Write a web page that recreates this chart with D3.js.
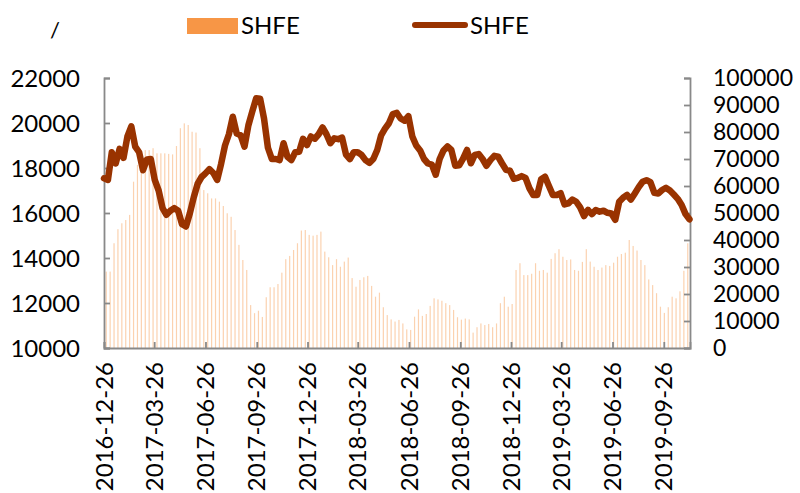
<!DOCTYPE html>
<html>
<head>
<meta charset="utf-8">
<script src="https://cdn.jsdelivr.net/npm/d3@7/dist/d3.min.js"></script>
<style>
  body { margin: 0; background: #fff; }
  svg text { font-family: Lato, "Open Sans", sans-serif; fill: #000; }
</style>
</head>
<body>
<div id="chart"></div>
<script>
// price ticks (left) and inventory ticks (right)
const priceTicks = [10000, 12000, 14000, 16000, 18000, 20000, 22000];
const stockTicks = [0, 10000, 20000, 30000, 40000, 50000, 60000, 70000, 80000, 90000, 100000];
const dateTicks = ["2016-12-26", "2017-03-26", "2017-06-26", "2017-09-26", "2017-12-26", "2018-03-26",
  "2018-06-26", "2018-09-26", "2018-12-26", "2019-03-26", "2019-06-26", "2019-09-26"];
const seriesNames = ["SHFE", "SHFE"];

// weekly inventory (Fridays, 2016-12-30 .. 2019-11-08)
const stockStart = "2016-12-30";
const stockEnd = "2019-11-09";
const stockValues = [
  28300, 28300, 38800, 44000, 46200, 47400, 49300, 61600, 67800, 70900,
  73300, 73300, 74000, 72100, 72100, 72100, 71900, 71700, 74800, 81400,
  83200, 82600, 80100, 79800, 74000, 58500, 57300, 55400, 55400, 54200,
  52600, 49900, 48600, 43700, 38200, 32600, 28900, 15900, 12900, 13800,
  11500, 18800, 22500, 22500, 23700, 27900, 32900, 34100, 36300, 38800,
  43500, 43700, 41900, 41600, 41900, 43100, 35700, 33600, 30700, 32900,
  30100, 32000, 33500, 25900, 22700, 25200, 26200, 26700, 23000, 19000,
  20500, 15100, 12200, 10600, 9800, 10400, 9100, 6900, 6700, 11600,
  14300, 11900, 12600, 15600, 18400, 18000, 17500, 16600, 15900, 14100,
  11400, 10500, 10900, 10600, 5700, 7700, 9100, 8500, 8900, 7700,
  9100, 16600, 19000, 15300, 16300, 28900, 31400, 27000, 27000, 27500,
  31400, 28600, 28900, 27900, 33000, 35100, 36600, 33800, 32600, 32800,
  28900, 28600, 31900, 36600, 32000, 30100, 28900, 29800, 30700, 30400,
  31600, 33800, 34800, 35300, 40000, 37800, 36100, 32600, 30700, 25400,
  23300, 20300, 15300, 13000, 15100, 19000, 18400, 21000, 28600, 38800
];

// price, one reading per week (Mondays, 2016-12-26 .. 2019-11-11)
const priceStart = "2016-12-26";
const priceEnd = "2019-11-12";
const priceValues = [
  17540, 17470, 18700, 18200, 18850, 18450, 19400, 19850, 18950, 18700,
  17900, 18380, 18400, 17470, 17000, 16220, 15920, 16100, 16220, 16100,
  15500, 15400, 15990, 16700, 17300, 17600, 17760, 17950, 17780, 17470,
  18180, 19000, 19500, 20280, 19530, 19460, 18950, 19900, 20520, 21100,
  21080, 20200, 18900, 18400, 18400, 18350, 19100, 18500, 18350, 18700,
  18720, 19300, 19020, 19400, 19300, 19500, 19800, 19500, 19100, 19320,
  19280, 19350, 18600, 18400, 18700, 18700, 18580, 18350, 18230, 18400,
  18800, 19450, 19750, 19990, 20400, 20450, 20200, 20100, 20300, 19400,
  19000, 18780, 18400, 18200, 18150, 17700, 18400, 18780, 18960, 18800,
  18100, 18120, 18420, 18800, 18210, 18580, 18620, 18400, 18100, 18350,
  18540, 18500, 18200, 17920, 17880, 17520, 17560, 17640, 17560, 17100,
  16800, 16800, 17500, 17610, 17200, 16800, 16800, 16880, 16380, 16430,
  16600, 16500, 16250, 15860, 16140, 15950, 16130, 16060, 16100, 16010,
  15980, 15700, 16500, 16680, 16800, 16600, 16870, 17150, 17390, 17460,
  17370, 16900, 16870, 17020, 17120, 17000, 16820, 16630, 16360, 15950,
  15720
];

const width = 800, height = 493;
const margin = { left: 104, right: 110, top: 78, bottom: 145 };
const parse = d3.timeParse("%Y-%m-%d");

const stockDates = d3.timeFriday.range(parse(stockStart), parse(stockEnd));
const priceDates = d3.timeMonday.range(parse(priceStart), parse(priceEnd));
const stock = stockValues.map((v, i) => ({ date: stockDates[i], value: v }));
const price = priceValues.map((v, i) => ({ date: priceDates[i], value: v }));

const svg = d3.select("#chart").append("svg")
  .attr("width", width).attr("height", height);

const x = d3.scaleTime()
  .domain([parse(priceStart), parse(priceEnd)])
  .range([margin.left, width - margin.right]);
const yL = d3.scaleLinear().domain([10000, 22000]).range([height - margin.bottom, margin.top]);
const yR = d3.scaleLinear().domain([0, 100000]).range([height - margin.bottom, margin.top]);

const axisColor = "#898989";

// inventory bars (very thin)
svg.append("g")
  .selectAll("rect")
  .data(stock)
  .join("rect")
  .attr("x", d => x(d.date) - 0.6)
  .attr("width", 1.2)
  .attr("y", d => yR(d.value))
  .attr("height", d => yR(0) - yR(d.value))
  .attr("fill", "#fbd2b0");

// axes
const left = svg.append("g")
  .attr("transform", `translate(${margin.left},0)`)
  .call(d3.axisRight(yL).tickValues(priceTicks).tickSize(6).tickFormat(""));
const right = svg.append("g")
  .attr("transform", `translate(${width - margin.right},0)`)
  .call(d3.axisLeft(yR).tickValues(stockTicks).tickSize(6).tickFormat(""));
const bottom = svg.append("g")
  .attr("transform", `translate(0,${height - margin.bottom})`)
  .call(d3.axisTop(x).tickValues(dateTicks.map(parse)).tickSize(6).tickFormat(""));

[left, right, bottom].forEach(g => {
  g.select(".domain").attr("stroke", axisColor).attr("stroke-width", 1.8);
  g.selectAll(".tick line").attr("stroke", axisColor).attr("stroke-width", 1.8);
});

// tick labels
svg.append("g").selectAll("text")
  .data(priceTicks)
  .join("text")
  .attr("x", 80)
  .attr("y", d => yL(d))
  .attr("dy", "0.36em")
  .attr("text-anchor", "end")
  .attr("font-size", 24)
  .text(d => d);

svg.append("g").selectAll("text")
  .data(stockTicks)
  .join("text")
  .attr("x", 713)
  .attr("y", d => yR(d))
  .attr("dy", "0.36em")
  .attr("text-anchor", "start")
  .attr("font-size", 23)
  .text(d => d);

svg.append("g").selectAll("text")
  .data(dateTicks)
  .join("text")
  .attr("transform", d => `translate(${x(parse(d))},${height - margin.bottom + 14}) rotate(-90)`)
  .attr("dy", "0.36em")
  .attr("text-anchor", "end")
  .attr("font-size", 24)
  .text(d => d);

// price line
const line = d3.line()
  .x(d => x(d.date))
  .y(d => yL(d.value));

svg.append("path")
  .datum(price)
  .attr("d", line)
  .attr("fill", "none")
  .attr("stroke", "#993300")
  .attr("stroke-width", 6.5)
  .attr("stroke-linejoin", "round")
  .attr("stroke-linecap", "round");

// unit label and legend
svg.append("text").attr("x", 50).attr("y", 38).attr("font-size", 22).text("/");

svg.append("rect").attr("x", 187).attr("y", 18).attr("width", 51).attr("height", 16).attr("fill", "#f79646");
svg.append("text").attr("x", 241).attr("y", 34).attr("font-size", 24).text(seriesNames[0]);

svg.append("line").attr("x1", 415).attr("x2", 465).attr("y1", 25).attr("y2", 25)
  .attr("stroke", "#993300").attr("stroke-width", 6).attr("stroke-linecap", "round");
svg.append("text").attr("x", 470).attr("y", 34).attr("font-size", 24).text(seriesNames[1]);
</script>
</body>
</html>
